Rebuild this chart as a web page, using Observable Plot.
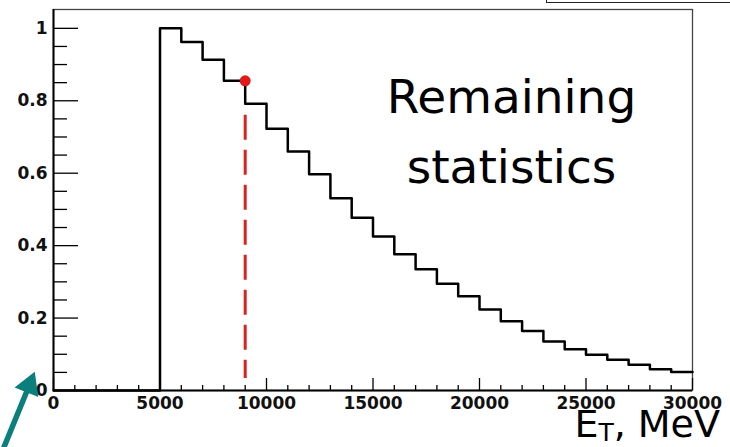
<!DOCTYPE html>
<html>
<head>
<meta charset="utf-8">
<script src="https://cdn.jsdelivr.net/npm/d3@7"></script>
<script src="https://cdn.jsdelivr.net/npm/@observablehq/plot@0.6"></script>
<style>
  html, body { margin: 0; padding: 0; background: #fff; }
  #chart { position: relative; width: 730px; height: 447px; overflow: hidden; }
  #statbox { position: absolute; left: 546px; top: -20px; width: 186px; height: 23px;
             border: 1px solid #222; box-sizing: border-box; background: #fff; }
</style>
</head>
<body>
<div id="chart"><div id="statbox"></div></div>
<script>
// Fraction of statistics remaining as a function of the E_T threshold (1000 MeV bins)
const binStarts = [5000, 6000, 7000, 8000, 9000, 10000, 11000, 12000, 13000, 14000,
                   15000, 16000, 17000, 18000, 19000, 20000, 21000, 22000, 23000, 24000,
                   25000, 26000, 27000, 28000, 29000];
const remaining = [1.000, 0.962, 0.913, 0.855, 0.792, 0.723, 0.660, 0.597, 0.531, 0.477,
                   0.425, 0.376, 0.335, 0.295, 0.260, 0.224, 0.191, 0.164, 0.135, 0.114,
                   0.099, 0.085, 0.071, 0.059, 0.051];
const xStart = 0;
const xEnd = 30000;

// Chosen threshold and the statistics kept there
const cutEt = 9000;
const cutValue = 0.855;
const cutLine = [{x: cutEt, top: 0.76, bottom: 0.033}];

// Axis ticks
const xMajorTicks = [0, 5000, 10000, 15000, 20000, 25000, 30000];
const xMinorTicks = d3.range(0, 30001, 1000).filter(v => v % 5000 !== 0);
const yMajorTicks = [0, 0.2, 0.4, 0.6, 0.8, 1];
const yMinorTicks = [0.05, 0.1, 0.15, 0.25, 0.3, 0.35, 0.45, 0.5, 0.55, 0.65, 0.7, 0.75, 0.85, 0.9, 0.95];

// Annotation text and pointer arrow (shaft from tail to head, head angle in degrees)
const noteLines = ["Remaining\nstatistics"];
const notePos = {x: 21500, y: 0.572};
const pointer = [{x1: -2350, y1: -0.16, x2: -1140, y2: 0.014, angle: 22}];

// Step outline: empty below 5000, then one step per bin up to the last edge
const steps = [{x: xStart, y: 0}]
  .concat(binStarts.map((x, i) => ({x, y: remaining[i]})))
  .concat([{x: xEnd, y: remaining[remaining.length - 1]}]);

const tickFont = {fontFamily: "DejaVu Sans", fontWeight: "bold", fontSize: 17, fill: "#111"};
const teal = "#0b7f7c";

const plot = Plot.plot({
  width: 730,
  height: 447,
  marginLeft: 53,
  marginRight: 38,
  marginTop: 9,
  marginBottom: 57,
  x: {domain: [xStart, xEnd]},
  y: {domain: [0, 1.052]},
  style: {background: "transparent", overflow: "visible"},
  marks: [
    Plot.frame({stroke: "#444", strokeWidth: 1.3}),
    // inward tick marks
    Plot.axisX({ticks: xMinorTicks, tickSize: -5, tickFormat: () => "", label: null, strokeWidth: 1.3}),
    Plot.axisX({ticks: xMajorTicks, tickSize: -12, tickFormat: () => "", label: null, strokeWidth: 1.3}),
    Plot.axisY({ticks: yMinorTicks, tickSize: -14, tickFormat: () => "", label: null, strokeWidth: 1.3}),
    Plot.axisY({ticks: yMajorTicks, tickSize: -25, tickFormat: () => "", label: null, strokeWidth: 1.3}),
    // tick labels
    Plot.axisX({ticks: xMajorTicks, tickSize: 0, tickPadding: 6, tickFormat: d => String(d), label: null, ...tickFont}),
    Plot.axisY({ticks: yMajorTicks, tickSize: 0, tickPadding: 6, tickFormat: d => String(d), label: null, ...tickFont}),
    // axis lines
    Plot.ruleY([0], {stroke: "#000", strokeWidth: 2}),
    Plot.ruleX([xStart], {stroke: "#000", strokeWidth: 2}),
    // histogram outline
    Plot.line(steps, {x: "x", y: "y", curve: "step-after", stroke: "#000", strokeWidth: 2.5}),
    // threshold marker
    Plot.ruleX(cutLine, {x: "x", y1: "top", y2: "bottom", stroke: "#d8231f", strokeWidth: 3, strokeDasharray: "25,10"}),
    Plot.dot([{x: cutEt, y: cutValue}], {x: "x", y: "y", r: 5.5, fill: "#e2191b", stroke: "none"}),
    // annotation
    Plot.text(noteLines, {x: () => notePos.x, y: () => notePos.y, text: d => d, textAnchor: "middle",
      lineAnchor: "bottom", lineHeight: 1.5, fontFamily: "DejaVu Sans", fontSize: 47, fill: "#000"}),
    Plot.link(pointer, {x1: "x1", y1: "y1", x2: "x2", y2: "y2", stroke: teal, strokeWidth: 5.5}),
    Plot.dot(pointer, {x: "x2", y: "y2", symbol: "triangle", rotate: "angle", r: 9.5, fill: teal, stroke: "none"})
  ]
});

// x-axis title with subscript
const title = d3.select(plot).append("text")
  .attr("x", 720).attr("y", 437)
  .attr("text-anchor", "end")
  .attr("font-family", "DejaVu Sans")
  .attr("font-size", 38)
  .attr("fill", "#000");
title.append("tspan").text("E");
title.append("tspan").attr("font-size", 25).attr("dy", 4).text("T");
title.append("tspan").attr("dy", -4).text(", MeV");

document.getElementById("chart").appendChild(plot);
</script>
</body>
</html>
